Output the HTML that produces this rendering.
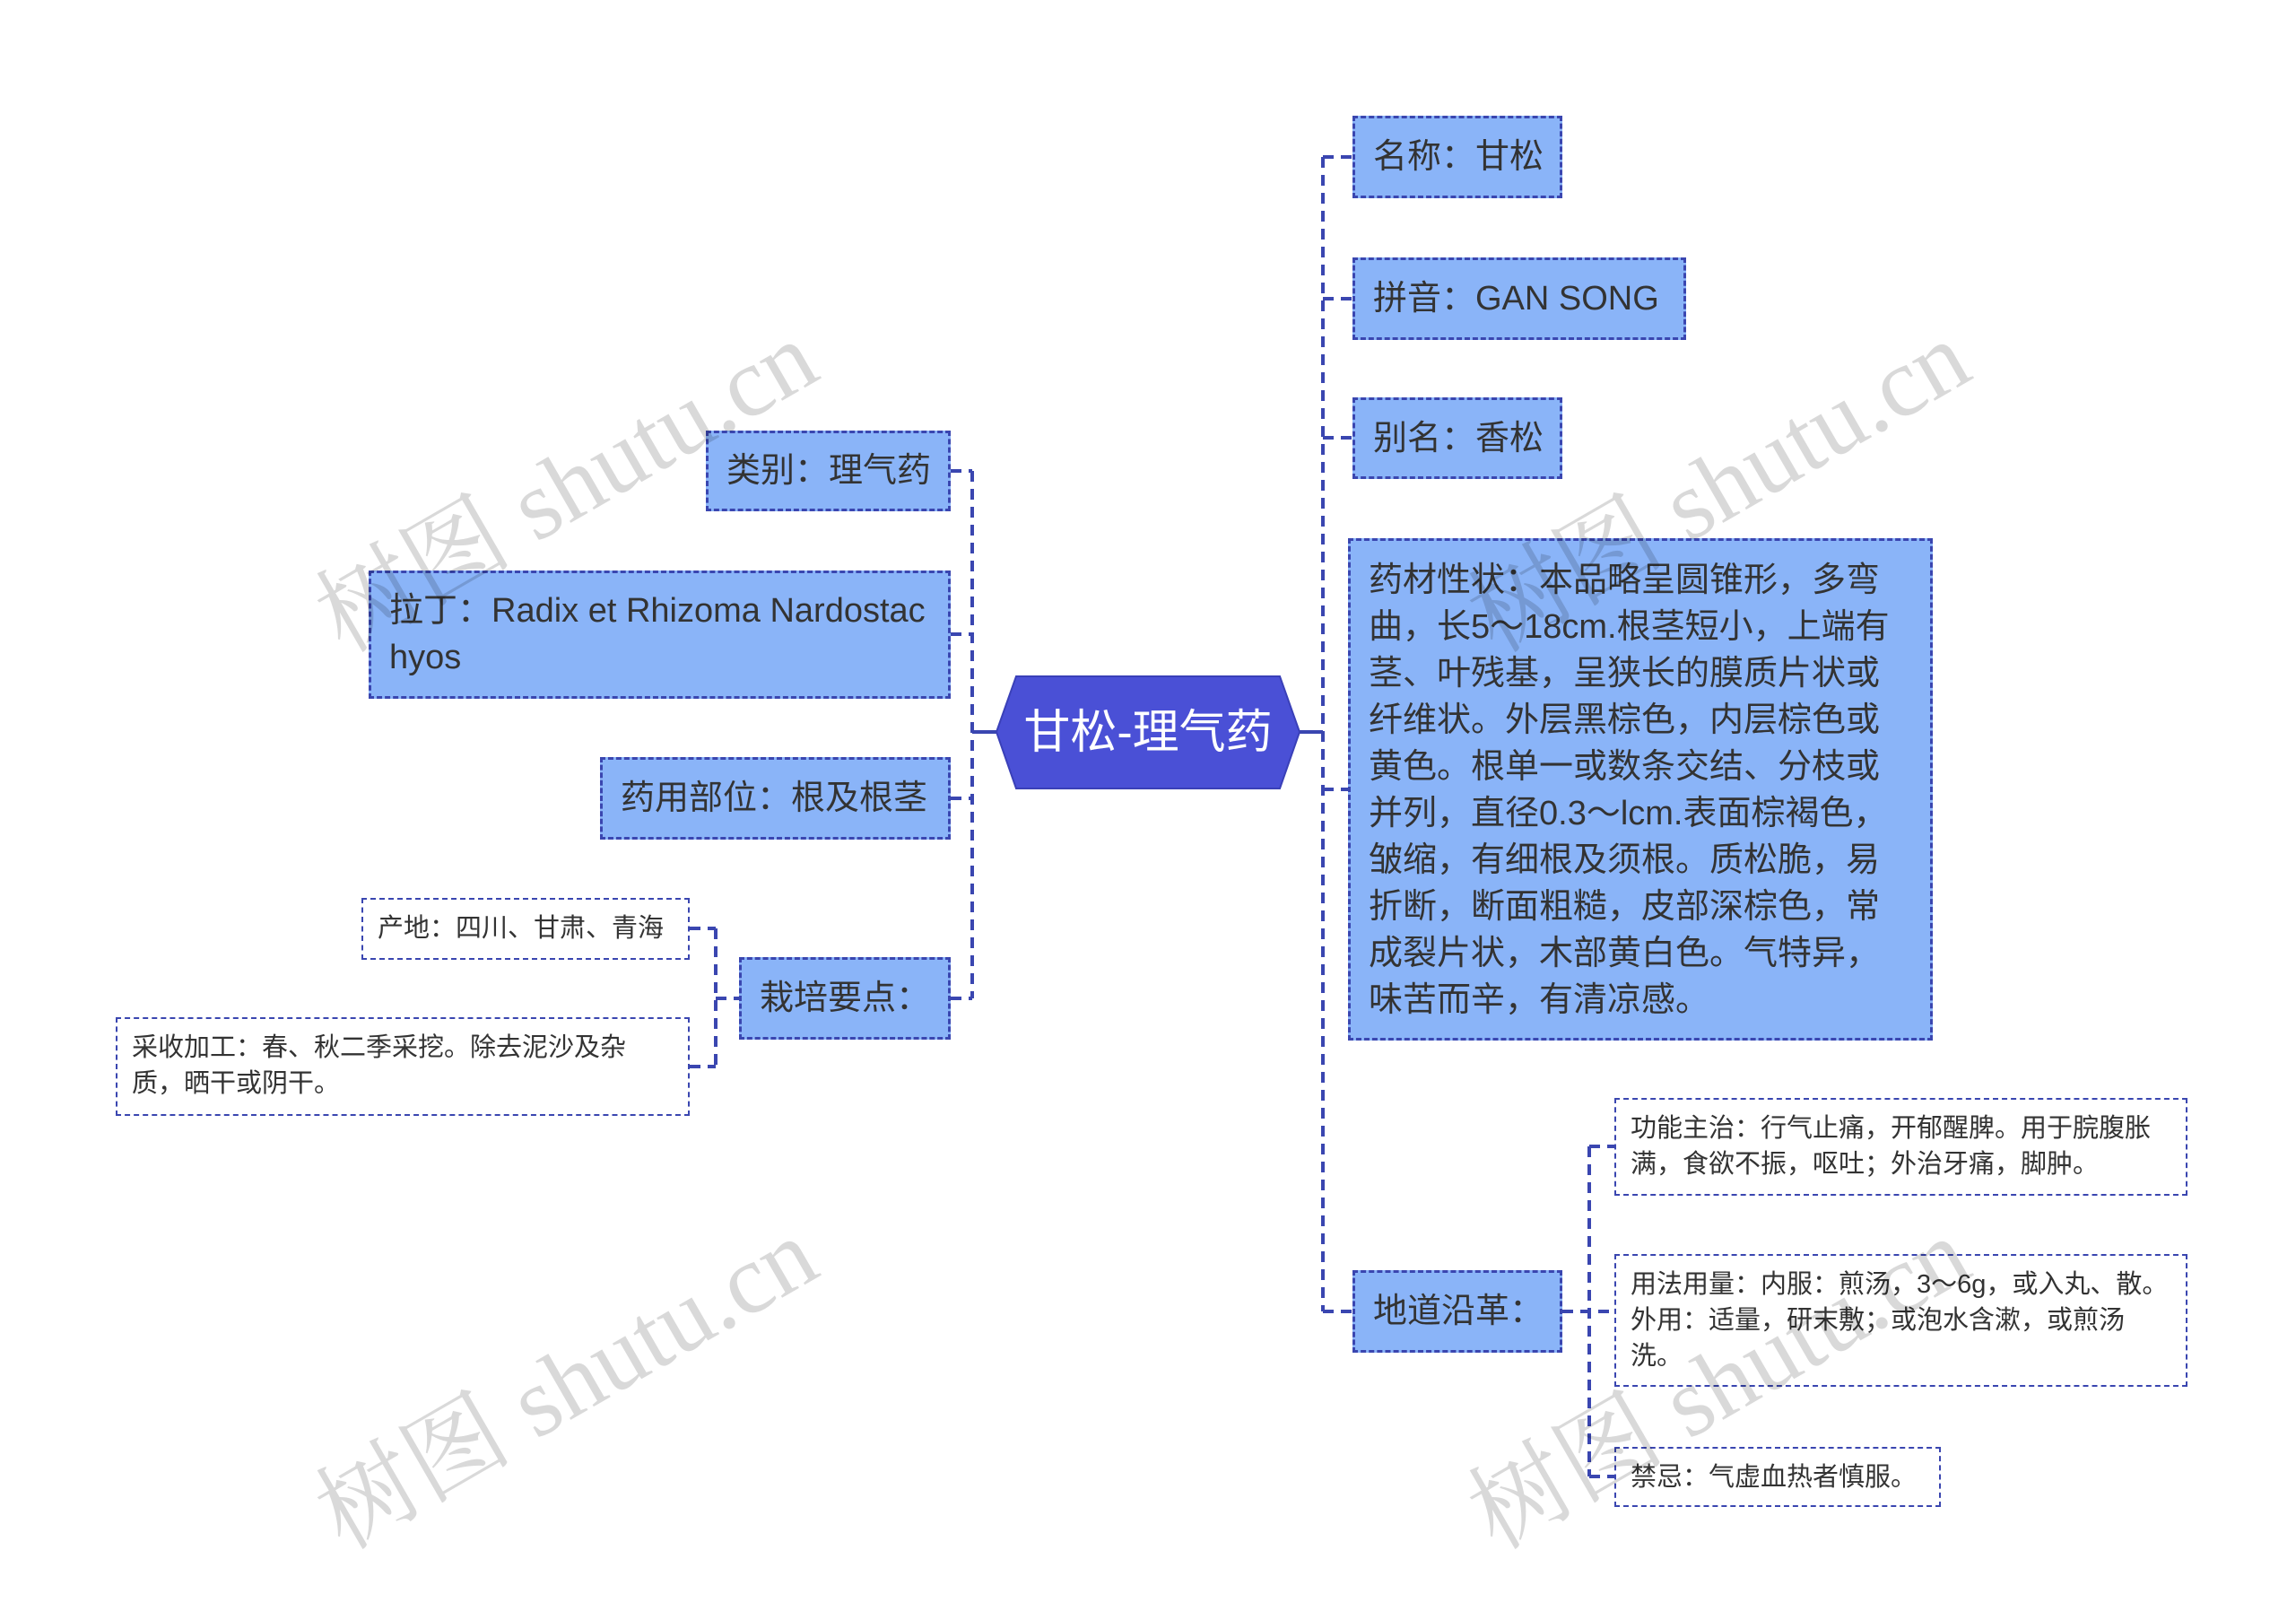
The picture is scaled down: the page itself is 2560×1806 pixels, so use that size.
<!DOCTYPE html>
<html><head><meta charset="utf-8"><style>
html,body{margin:0;padding:0;background:#fff;}
body{width:2560px;height:1806px;position:relative;overflow:hidden;font-family:"Liberation Sans","Noto Sans CJK SC",sans-serif;color:#333;}
.b{position:absolute;box-sizing:border-box;border:3px dashed #3a46b0;background:#8ab4f8;font-size:38px;line-height:52px;padding:10px 20px;word-break:break-all;}
.b.m{display:flex;align-items:center;white-space:nowrap;padding:0 20px;}
.w{position:absolute;box-sizing:border-box;border:2px dashed #3a46b0;background:#fff;font-size:29px;line-height:40px;padding:12px 16px;word-break:break-all;}
.wm{position:absolute;font-family:"Liberation Serif","Noto Serif CJK SC",serif;font-size:110px;color:rgba(0,0,0,0.15);transform:rotate(-30deg);transform-origin:left top;white-space:nowrap;}
</style></head><body>
<svg width="2560" height="1806" style="position:absolute;left:0;top:0" xmlns="http://www.w3.org/2000/svg">
<g stroke="#3a46b0" stroke-width="4" fill="none" stroke-dasharray="12,8">
<line x1="1475" y1="175" x2="1475" y2="1462"/>
<line x1="1475" y1="175" x2="1508" y2="175"/>
<line x1="1475" y1="333" x2="1508" y2="333"/>
<line x1="1475" y1="488" x2="1508" y2="488"/>
<line x1="1475" y1="880" x2="1508" y2="880"/>
<line x1="1475" y1="1462" x2="1508" y2="1462"/>
<line x1="1084" y1="525" x2="1084" y2="1113"/>
<line x1="1060" y1="525" x2="1084" y2="525"/>
<line x1="1060" y1="707" x2="1084" y2="707"/>
<line x1="1060" y1="890" x2="1084" y2="890"/>
<line x1="1060" y1="1113" x2="1084" y2="1113"/>
<line x1="798" y1="1035" x2="798" y2="1189"/>
<line x1="769" y1="1035" x2="798" y2="1035"/>
<line x1="769" y1="1189" x2="798" y2="1189"/>
<line x1="798" y1="1113" x2="824" y2="1113"/>
<line x1="1772" y1="1278" x2="1772" y2="1646"/>
<line x1="1772" y1="1278" x2="1800" y2="1278"/>
<line x1="1742" y1="1462" x2="1800" y2="1462"/>
<line x1="1772" y1="1646" x2="1800" y2="1646"/>
</g>
<g stroke="#3a46b0" stroke-width="4">
<line x1="1449" y1="816" x2="1475" y2="816"/>
<line x1="1084" y1="816" x2="1111" y2="816"/>
</g>
<polygon points="1133,754 1427,754 1449,816 1427,879 1133,879 1111,816" fill="#4a50d6" stroke="#3a40b8" stroke-width="2"/>
<text x="1280" y="834" font-size="52" fill="#fff" text-anchor="middle" font-family="Liberation Sans, Noto Sans CJK SC, sans-serif">甘松-理气药</text>
</svg>

<div class="b m" style="left:1508px;top:129px;width:234px;height:92px;">名称：甘松</div>
<div class="b m" style="left:1508px;top:287px;width:372px;height:92px;">拼音：GAN SONG</div>
<div class="b m" style="left:1508px;top:443px;width:234px;height:91px;">别名：香松</div>
<div class="b" style="left:1503px;top:600px;width:652px;height:560px;padding:18px 20px;">药材性状：本品略呈圆锥形，多弯曲，长5～18cm.根茎短小，上端有茎、叶残基，呈狭长的膜质片状或纤维状。外层黑棕色，内层棕色或黄色。根单一或数条交结、分枝或并列，直径0.3～lcm.表面棕褐色，皱缩，有细根及须根。质松脆，易折断，断面粗糙，皮部深棕色，常成裂片状，木部黄白色。气特异，味苦而辛，有清凉感。</div>
<div class="b m" style="left:1508px;top:1416px;width:234px;height:92px;">地道沿革：</div>
<div class="w" style="left:1800px;top:1224px;width:639px;height:109px;">功能主治：行气止痛，开郁醒脾。用于脘腹胀满，食欲不振，呕吐；外治牙痛，脚肿。</div>
<div class="w" style="left:1800px;top:1398px;width:639px;height:148px;">用法用量：内服：煎汤，3～6g，或入丸、散。外用：适量，研末敷；或泡水含漱，或煎汤洗。</div>
<div class="w" style="left:1800px;top:1613px;width:364px;height:67px;white-space:nowrap;">禁忌：气虚血热者慎服。</div>

<div class="b m" style="left:787px;top:480px;width:273px;height:90px;">类别：理气药</div>
<div class="b" style="left:411px;top:636px;width:649px;height:143px;padding:16px 20px;">拉丁：Radix et Rhizoma Nardostachyos</div>
<div class="b m" style="left:669px;top:844px;width:391px;height:92px;">药用部位：根及根茎</div>
<div class="b m" style="left:824px;top:1067px;width:236px;height:92px;">栽培要点：</div>
<div class="w" style="left:403px;top:1001px;width:366px;height:69px;white-space:nowrap;">产地：四川、甘肃、青海</div>
<div class="w" style="left:129px;top:1134px;width:640px;height:110px;">采收加工：春、秋二季采挖。除去泥沙及杂质，晒干或阴干。</div>

<div class="wm" style="left:320px;top:620px;">树图 shutu.cn</div>
<div class="wm" style="left:1605px;top:620px;">树图 shutu.cn</div>
<div class="wm" style="left:320px;top:1620px;">树图 shutu.cn</div>
<div class="wm" style="left:1605px;top:1620px;">树图 shutu.cn</div>
</body></html>
